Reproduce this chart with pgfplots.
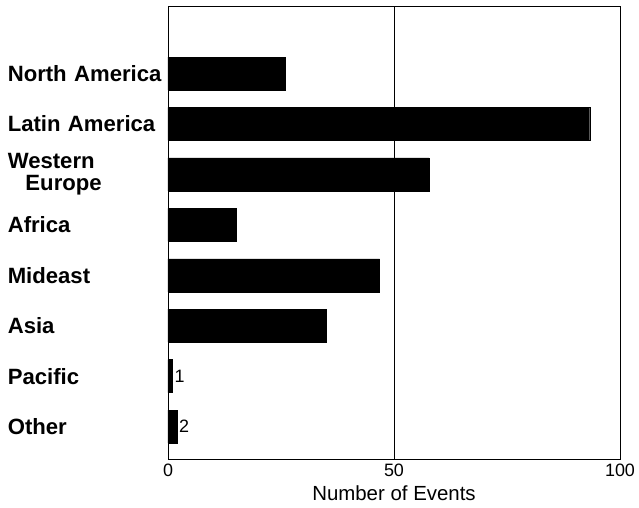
\documentclass[border=0pt]{standalone}
\usepackage{pgfplots}
\pgfplotsset{compat=1.18}
\usepackage{fontspec}
\setmainfont{Liberation Sans}
\begin{document}
\begin{tikzpicture}
\begin{axis}[
  name=ax,
  scale only axis,
  width=452bp, height=453bp,
  xbar, bar width=33bp,
  xmin=0, xmax=100,
  ymin=-0.644, ymax=8.34,
  xtick={0,50,100},
  xmajorgrids=true,
  grid style={black, line width=0.8pt},
  ytick={0,1,2,3,4,5,6,7},
  yticklabels={Other,Pacific,Asia,Mideast,Africa,{Western\\\hspace*{0.8em}Europe},Latin America,North America},
  major tick length=0pt,
  axis line style={black, line width=0.8pt},
  /pgf/number format/assume math mode=true,
  xticklabel style={font=\fontsize{18}{20}\selectfont, yshift=-1bp},
  yticklabel style={font=\fontsize{22.2}{22}\selectfont\bfseries, text width=160bp, align=left, inner sep=0pt, xshift=0bp},
  xlabel={Number of Events},
  xlabel style={font=\fontsize{20.5}{22}\selectfont, yshift=-3bp},
]
\addplot[fill=black, draw=black, bar shift=0pt] coordinates {(26,7) (93.3,6) (57.7,5) (15,4) (46.8,3) (35,2)};
\addplot[fill=black, draw=black, bar shift=0pt, nodes near coords, nodes near coords style={font=\fontsize{18}{20}\selectfont, text=black, inner sep=2bp}] coordinates {(1,1) (2,0)};
\end{axis}
\pgfresetboundingbox
\path[use as bounding box] ([xshift=-168bp,yshift=-49bp]ax.south west) rectangle ++(639bp,508bp);
\end{tikzpicture}
\end{document}
